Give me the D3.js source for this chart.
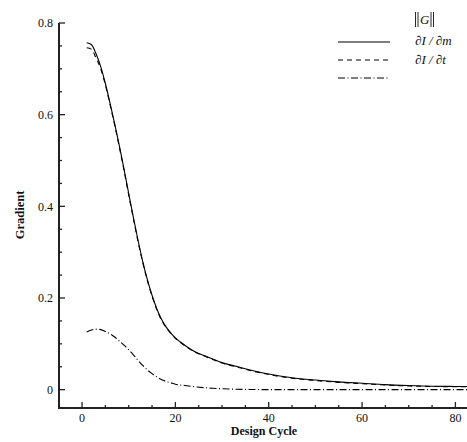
<!DOCTYPE html>
<html>
<head>
<meta charset="UTF-8">
<script src="https://cdnjs.cloudflare.com/ajax/libs/d3/7.8.5/d3.min.js"></script>
<style>
  body { margin: 0; background: #fff; }
  svg { display: block; }
  text { font-family: "Liberation Serif", "Times New Roman", serif; fill: #111; }
</style>
</head>
<body>
<svg width="467" height="442"></svg>
<script>
// design cycles and the three gradient series
const cycles = [1,2,3,4,5,6,7,8,9,10,11,12,13,14,15,16,17,18,19,20,22,24,26,28,30,33,36,40,45,50,55,60,65,70,75,80,83];
const normG = [0.757,0.753,0.733,0.705,0.668,0.625,0.580,0.532,0.481,0.428,0.376,0.326,0.280,0.240,0.206,0.177,0.154,0.137,0.124,0.113,0.097,0.084,0.075,0.067,0.059,0.051,0.043,0.034,0.026,0.021,0.017,0.014,0.011,0.009,0.0075,0.007,0.0068];
const dIdm  = [0.746,0.743,0.724,0.700,0.665,0.622,0.577,0.529,0.478,0.425,0.373,0.323,0.278,0.238,0.204,0.175,0.152,0.136,0.123,0.112,0.096,0.083,0.074,0.066,0.058,0.050,0.042,0.033,0.025,0.020,0.016,0.013,0.010,0.008,0.007,0.0065,0.0063];
const dIdt  = [0.126,0.130,0.132,0.131,0.127,0.122,0.115,0.106,0.097,0.087,0.076,0.064,0.053,0.043,0.035,0.028,0.022,0.018,0.015,0.012,0.009,0.0065,0.0045,0.003,0.002,0.001,0.0005,0,0,0,0,0,0,0,0,0,0];
const xTicks = [0,20,40,60,80];
const yTicks = [0,0.2,0.4,0.6,0.8];

const svg = d3.select("svg");
const x = d3.scaleLinear().domain([-5, 83]).range([58.7, 469.4]);
const y = d3.scaleLinear().domain([-0.04, 0.8]).range([408, 23]);

svg.append("defs").append("clipPath").attr("id", "clip")
  .append("rect").attr("x", 59).attr("y", 0).attr("width", 408).attr("height", 408);

// axes (ticks point inward)
const xAxis = svg.append("g").attr("transform", "translate(0,408)");
xAxis.append("line").attr("x1", 59).attr("x2", 467).attr("y1", 0).attr("y2", 0)
  .attr("stroke", "#222").attr("stroke-width", 2);
d3.range(0, 85, 5).forEach(v => {
  const major = v % 20 === 0;
  xAxis.append("line").attr("x1", x(v)).attr("x2", x(v)).attr("y1", 0).attr("y2", major ? -6 : -3)
    .attr("stroke", "#222").attr("stroke-width", 1.3);
});
xAxis.selectAll("text.xt").data(xTicks).enter().append("text")
  .attr("x", d => x(d)).attr("y", 14).attr("text-anchor", "middle")
  .attr("font-size", 12).text(d => d);

const yAxis = svg.append("g");
yAxis.append("line").attr("x1", 59).attr("x2", 59).attr("y1", 23).attr("y2", 409)
  .attr("stroke", "#222").attr("stroke-width", 2);
d3.range(0, 0.801, 0.05).forEach(v => {
  const major = Math.round(v * 100) % 20 === 0;
  yAxis.append("line").attr("x1", 59).attr("x2", major ? 65 : 62).attr("y1", y(v)).attr("y2", y(v))
    .attr("stroke", "#222").attr("stroke-width", 1.3);
});
yAxis.selectAll("text.yt").data(yTicks).enter().append("text")
  .attr("x", 53).attr("y", d => y(d)).attr("dy", "0.35em").attr("text-anchor", "end")
  .attr("font-size", 12).text(d => d === 0 ? "0" : d.toFixed(1));

svg.append("text").attr("x", 264).attr("y", 435).attr("text-anchor", "middle")
  .attr("font-size", 12).attr("font-weight", "bold").text("Design Cycle");
svg.append("text").attr("transform", "translate(24,215) rotate(-90)").attr("text-anchor", "middle")
  .attr("font-size", 12.5).attr("font-weight", "bold").text("Gradient");

// curves
const series = [
  { vals: normG, dash: null },
  { vals: dIdm, dash: "5,4" },
  { vals: dIdt, dash: "7,2.5,1,2.5" }
];
const line = d3.line().x(d => x(d[0])).y(d => y(d[1])).curve(d3.curveMonotoneX);
const plot = svg.append("g").attr("clip-path", "url(#clip)");
series.forEach(s => {
  plot.append("path").datum(cycles.map((c, i) => [c, s.vals[i]]))
    .attr("d", line).attr("fill", "none").attr("stroke", "#000").attr("stroke-width", 1.1)
    .attr("stroke-dasharray", s.dash);
});

// legend
const leg = svg.append("g");
series.forEach((s, i) => {
  leg.append("line").attr("x1", 338).attr("x2", 390).attr("y1", 42 + i * 18).attr("y2", 42 + i * 18)
    .attr("stroke", "#000").attr("stroke-width", 1.1).attr("stroke-dasharray", s.dash);
});
// norm bars around G
[415.5, 418, 431, 433.5].forEach(bx => {
  leg.append("line").attr("x1", bx).attr("x2", bx).attr("y1", 12).attr("y2", 27)
    .attr("stroke", "#111").attr("stroke-width", 0.9);
});
leg.append("text").attr("x", 420).attr("y", 24).attr("font-size", 13).attr("font-style", "italic").text("G");
leg.append("text").attr("x", 415).attr("y", 45).attr("font-size", 13).attr("font-style", "italic").text("\u2202I / \u2202m");
leg.append("text").attr("x", 415).attr("y", 64).attr("font-size", 13).attr("font-style", "italic").text("\u2202I / \u2202t");
</script>
</body>
</html>
